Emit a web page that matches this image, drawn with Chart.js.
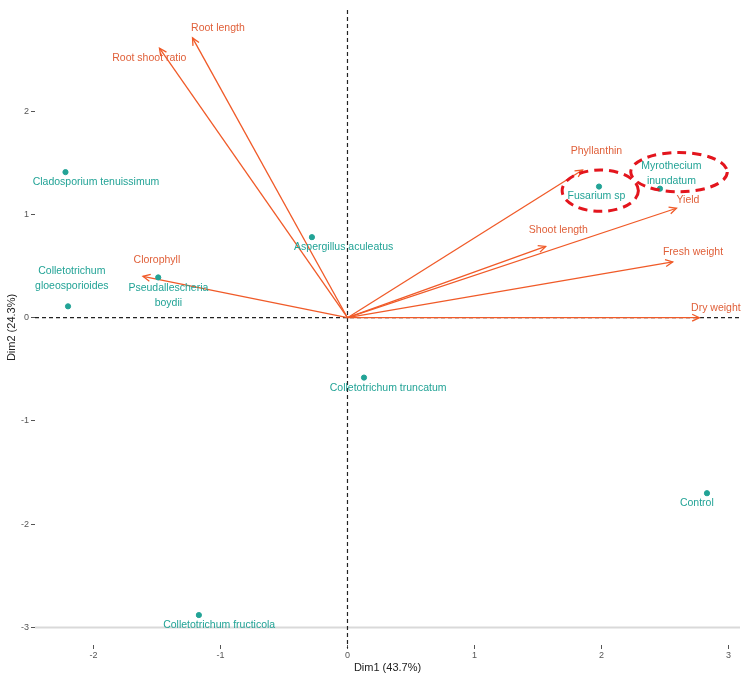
<!DOCTYPE html>
<html>
<head>
<meta charset="utf-8">
<title>PCA biplot</title>
<script src="https://cdn.jsdelivr.net/npm/chart.js@4.4.1/dist/chart.umd.min.js"></script>
<style>
  body { margin: 0; background: #fff; }
  #wrap { width: 750px; height: 680px; }
</style>
</head>
<body>
<div id="wrap"><canvas id="myChart" width="750" height="680"></canvas></div>
<script>
'use strict'

// individus (points)
const indNames = ['Cladosporium tenuissimum', 'Aspergillus aculeatus', 'Colletotrichum\ngloeosporioides',
  'Pseudallescheria\nboydii', 'Colletotrichum truncatum', 'Colletotrichum fructicola', 'Control',
  'Fusarium sp', 'Myrothecium\ninundatum'];
const indX = [-2.22, -0.28, -2.20, -1.49, 0.13, -1.17, 2.83, 1.98, 2.46];
const indY = [1.41, 0.78, 0.11, 0.39, -0.58, -2.88, -1.70, 1.27, 1.25];
const indLabelX = [-1.98, -0.03, -2.17, -1.41, 0.32, -1.01, 2.75, 1.96, 2.55];
const indLabelY = [1.31, 0.68, 0.38, 0.21, -0.68, -2.98, -1.80, 1.18, 1.40];

// variables (fleches)
const varNames = ['Root length', 'Root shoot ratio', 'Clorophyll', 'Phyllanthin', 'Yield',
  'Shoot length', 'Fresh weight', 'Dry weight'];
const varX = [-1.22, -1.48, -1.61, 1.85, 2.59, 1.56, 2.56, 2.77];
const varY = [2.71, 2.61, 0.40, 1.43, 1.06, 0.69, 0.54, 0.0];
const varLabelX = [-1.02, -1.56, -1.50, 1.96, 2.68, 1.66, 2.72, 2.90];
const varLabelY = [2.80, 2.51, 0.56, 1.61, 1.14, 0.85, 0.64, 0.09];

// ellipses rouges (centre x, centre y, rayon x, rayon y)
const ellX = [1.99, 2.61];
const ellY = [1.23, 1.41];
const ellRx = [0.30, 0.38];
const ellRy = [0.20, 0.19];

const xTicks = [-2, -1, 0, 1, 2, 3];
const yTicks = [-3, -2, -1, 0, 1, 2];

const teal = '#22a396';
const orange = '#f05a28';
const orangeText = '#e0603a';
const labelFont = '10.5px "Liberation Sans", Arial, sans-serif';

function drawLabel(c, text, px, py, color) {
  let lines = text.split('\n');
  c.fillStyle = color;
  c.font = labelFont;
  c.textAlign = 'center';
  c.textBaseline = 'middle';
  let start = py - (lines.length - 1) * 7.5;
  for (let i = 0; i < lines.length; i++) {
    c.fillText(lines[i], px, start + i * 15);
  }
}

const biplot = {
  id: 'biplot',
  beforeDatasetsDraw(chart) {
    const c = chart.ctx;
    const a = chart.chartArea;
    const sx = chart.scales.x;
    const sy = chart.scales.y;
    let x0 = sx.getPixelForValue(0);
    let y0 = sy.getPixelForValue(0);
    let y3 = sy.getPixelForValue(-3);
    c.save();
    // ligne grise en bas
    c.strokeStyle = '#d9d9d9';
    c.lineWidth = 2;
    c.beginPath();
    c.moveTo(a.left, y3);
    c.lineTo(a.right, y3);
    c.stroke();
    // axes en pointilles
    c.strokeStyle = '#222';
    c.lineWidth = 1.2;
    c.setLineDash([4, 3]);
    c.beginPath();
    c.moveTo(a.left, y0);
    c.lineTo(a.right, y0);
    c.moveTo(x0, a.top);
    c.lineTo(x0, a.bottom + 3);
    c.stroke();
    c.restore();
  },
  afterDatasetsDraw(chart) {
    const c = chart.ctx;
    const sx = chart.scales.x;
    const sy = chart.scales.y;
    let x0 = sx.getPixelForValue(0);
    let y0 = sy.getPixelForValue(0);
    c.save();
    // pointes des fleches
    c.strokeStyle = orange;
    c.lineWidth = 1.3;
    for (let i = 0; i < varX.length; i++) {
      let px = sx.getPixelForValue(varX[i]);
      let py = sy.getPixelForValue(varY[i]);
      let ang = Math.atan2(py - y0, px - x0);
      c.beginPath();
      c.moveTo(px - 8 * Math.cos(ang - 0.45), py - 8 * Math.sin(ang - 0.45));
      c.lineTo(px, py);
      c.lineTo(px - 8 * Math.cos(ang + 0.45), py - 8 * Math.sin(ang + 0.45));
      c.stroke();
    }
    // etiquettes
    for (let i = 0; i < varNames.length; i++) {
      drawLabel(c, varNames[i], sx.getPixelForValue(varLabelX[i]), sy.getPixelForValue(varLabelY[i]), orangeText);
    }
    for (let i = 0; i < indNames.length; i++) {
      drawLabel(c, indNames[i], sx.getPixelForValue(indLabelX[i]), sy.getPixelForValue(indLabelY[i]), teal);
    }
    // ellipses
    c.strokeStyle = '#e3151d';
    c.lineWidth = 3;
    c.setLineDash([9, 6]);
    for (let i = 0; i < ellX.length; i++) {
      let cx = sx.getPixelForValue(ellX[i]);
      let cy = sy.getPixelForValue(ellY[i]);
      let rx = Math.abs(sx.getPixelForValue(ellX[i] + ellRx[i]) - cx);
      let ry = Math.abs(sy.getPixelForValue(ellY[i] + ellRy[i]) - cy);
      c.beginPath();
      c.ellipse(cx, cy, rx, ry, 0, 0, Math.PI * 2);
      c.stroke();
    }
    c.restore();
  }
};

let datasets = [{
  label: 'Individus',
  data: indX.map((v, i) => ({ x: v, y: indY[i] })),
  backgroundColor: teal,
  borderColor: teal,
  pointRadius: 2.6,
  order: 0
}];

for (let i = 0; i < varNames.length; i++) {
  datasets.push({
    label: varNames[i],
    data: [{ x: 0, y: 0 }, { x: varX[i], y: varY[i] }],
    showLine: true,
    borderColor: orange,
    borderWidth: 1.3,
    pointRadius: 0,
    order: 1
  });
}

const tickFont = { family: '"Liberation Sans", Arial, sans-serif', size: 9 };
const titleFont = { family: '"Liberation Sans", Arial, sans-serif', size: 11 };

let ctx = document.getElementById('myChart');

new Chart(ctx, {
  type: 'scatter',
  data: { datasets: datasets },
  options: {
    responsive: false,
    animation: false,
    layout: { padding: { top: 10, right: 10, left: 0, bottom: 0 } },
    plugins: {
      legend: { display: false },
      tooltip: { enabled: false }
    },
    scales: {
      x: {
        type: 'linear',
        min: -2.46,
        max: 3.09,
        afterBuildTicks: s => { s.ticks = xTicks.map(v => ({ value: v })); },
        afterFit: s => { s.height = 35; },
        grid: { drawOnChartArea: false, drawTicks: true, tickLength: 4, color: '#555' },
        border: { display: false },
        ticks: { font: tickFont, color: '#555', padding: 1, maxRotation: 0 },
        title: { display: true, text: 'Dim1 (43.7%)', font: titleFont, color: '#222', padding: { top: 5, bottom: 5 } }
      },
      y: {
        type: 'linear',
        min: -3.17,
        max: 2.98,
        afterBuildTicks: s => { s.ticks = yTicks.map(v => ({ value: v })); },
        afterFit: s => { s.width = 35; },
        grid: { drawOnChartArea: false, drawTicks: true, tickLength: 4, color: '#555' },
        border: { display: false },
        ticks: { font: tickFont, color: '#555', padding: 2 },
        title: { display: true, text: 'Dim2 (24.3%)', font: titleFont, color: '#222', padding: { top: 5, bottom: 5 } }
      }
    }
  },
  plugins: [biplot]
});
</script>
</body>
</html>
